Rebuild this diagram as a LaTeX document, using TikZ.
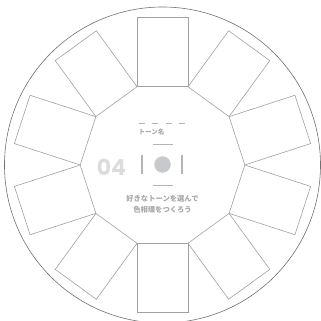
\documentclass[tikz,border=0pt]{standalone}
\usepackage{fontspec}
\newfontfamily\jpfont{Noto Sans CJK JP}
\newfontfamily\popfont{Poppins}
\definecolor{framegray}{HTML}{A0A0A0}
\definecolor{ringgray}{HTML}{707070}
\definecolor{textgray}{HTML}{A8A8A8}
\definecolor{numgray}{HTML}{DCDCDC}
\definecolor{markgray}{HTML}{B4B4B8}
\definecolor{dotgray}{HTML}{C8C9CC}
\begin{document}
\begin{tikzpicture}[x=1pt,y=1pt,
  slot/.style={draw=framegray,line width=0.6pt},
  ring/.style={draw=ringgray,line width=0.6pt},
  barline/.style={draw=markgray,line width=1.3pt},
  jptext/.style={text=textgray,font=\jpfont\bfseries,inner sep=0pt}]
\useasboundingbox (-162.5,-156) rectangle (158.5,165);
\draw[ring] (0,0) circle (158);
\foreach \k in {0,...,9}{
  \draw[slot,rotate=36*\k] (-25.4,78.3) rectangle (25.4,147.5);
}
\node[jptext,font=\jpfont\bfseries\fontsize{6.5}{7}\selectfont,anchor=west] (tone) at (-24,33) {トーン名};
\coordinate (dashL) at (-24,41);
\coordinate (dashR) at (23.5,41);
\draw[draw=markgray,line width=1pt,dash pattern=on 6pt off 7.6pt] (dashL) -- (dashR);
\node[text=numgray,font=\popfont\bfseries\fontsize{22}{22}\selectfont,inner sep=0pt] (num) at (-51,-2) {04};
\coordinate (vl1) at (-20.5,10); \coordinate (vl2) at (-20.5,-9);
\coordinate (vr1) at (19.5,10); \coordinate (vr2) at (19.5,-9);
\coordinate (ht1) at (-10,20.7); \coordinate (ht2) at (10.5,20.7);
\coordinate (hb1) at (-10,-20.7); \coordinate (hb2) at (10.5,-20.7);
\draw[barline] (vl1) -- (vl2);
\draw[barline] (vr1) -- (vr2);
\draw[barline] (ht1) -- (ht2);
\draw[barline] (hb1) -- (hb2);
\node[circle,fill=dotgray,minimum size=16.5pt,inner sep=0pt] (dot) at (0,0.5) {};
\node[jptext,font=\jpfont\bfseries\fontsize{7.3}{11}\selectfont,align=center] (msg) at (0,-39.5) {好きなトーンを選んで\\色相環をつくろう};
\end{tikzpicture}
\end{document}
